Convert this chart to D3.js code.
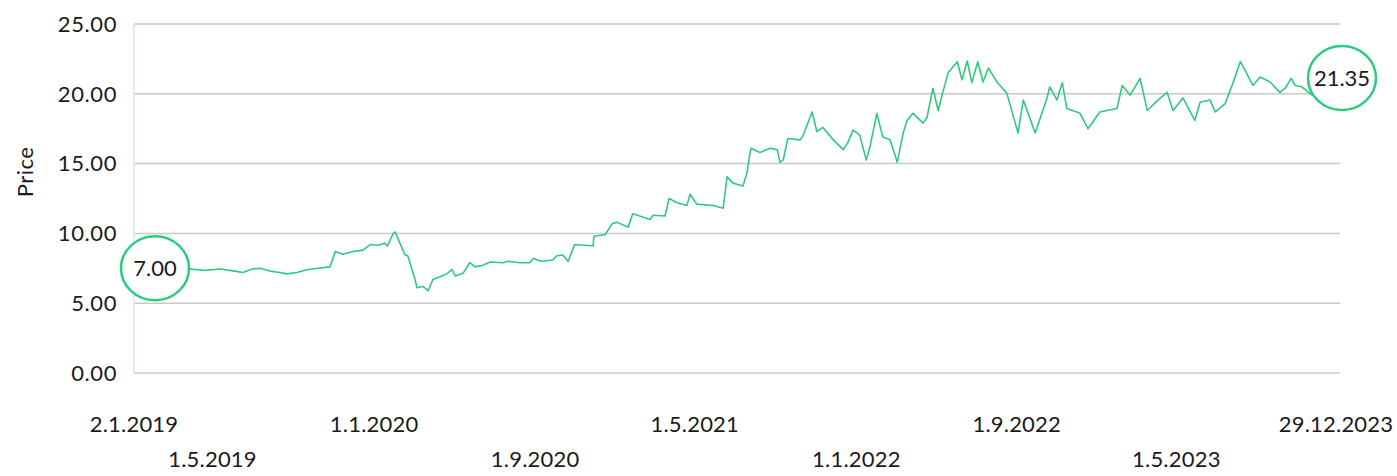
<!DOCTYPE html>
<html>
<head>
<meta charset="utf-8">
<script src="https://cdn.jsdelivr.net/npm/d3@7"></script>
<style>
  html, body { margin: 0; padding: 0; background: #fff; }
  svg text { font-family: Lato, 'Open Sans', sans-serif; fill: #1a1a1a; }
</style>
</head>
<body>
<svg id="chart" width="1397" height="476"></svg>
<script>
const dates = [
  '2019-01-02', '2019-01-19', '2019-02-10', '2019-03-05', '2019-03-28', '2019-04-20', '2019-05-12',
  '2019-06-04', '2019-06-16', '2019-06-30', '2019-07-12', '2019-07-27', '2019-08-11', '2019-08-22',
  '2019-09-06', '2019-09-21', '2019-10-08', '2019-10-26', '2019-11-03', '2019-11-15', '2019-11-30',
  '2019-12-15', '2019-12-26', '2020-01-07', '2020-01-17', '2020-01-21', '2020-01-30', '2020-02-02',
  '2020-02-09', '2020-02-17', '2020-02-21', '2020-03-03', '2020-03-06', '2020-03-15', '2020-03-23',
  '2020-03-30', '2020-04-10', '2020-04-20', '2020-04-28', '2020-05-03', '2020-05-15', '2020-05-25',
  '2020-06-02', '2020-06-13', '2020-06-25', '2020-07-14', '2020-07-22', '2020-08-09', '2020-08-24',
  '2020-08-29', '2020-09-11', '2020-09-28', '2020-10-04', '2020-10-13', '2020-10-21', '2020-10-31',
  '2020-11-16', '2020-11-28', '2020-11-29', '2020-12-16', '2020-12-27', '2021-01-03', '2021-01-20',
  '2021-01-27', '2021-02-10', '2021-02-22', '2021-02-27', '2021-03-17', '2021-03-23', '2021-04-04',
  '2021-04-19', '2021-04-24', '2021-05-04', '2021-05-29', '2021-06-13', '2021-06-19', '2021-06-28',
  '2021-07-13', '2021-07-19', '2021-07-25', '2021-08-08', '2021-08-23', '2021-09-03', '2021-09-07',
  '2021-09-12', '2021-09-19', '2021-10-08', '2021-10-12', '2021-10-26', '2021-11-02', '2021-11-11',
  '2021-11-27', '2021-12-12', '2021-12-19', '2021-12-27', '2022-01-06', '2022-01-16', '2022-01-22',
  '2022-02-01', '2022-02-10', '2022-02-21', '2022-03-04', '2022-03-13', '2022-03-19', '2022-03-28',
  '2022-04-12', '2022-04-18', '2022-04-27', '2022-05-05', '2022-05-12', '2022-05-20', '2022-06-03',
  '2022-06-10', '2022-06-18', '2022-06-25', '2022-07-04', '2022-07-12', '2022-07-20', '2022-08-02',
  '2022-08-17', '2022-09-03', '2022-09-11', '2022-09-29', '2022-10-17', '2022-10-21', '2022-11-01',
  '2022-11-09', '2022-11-16', '2022-12-06', '2022-12-18', '2023-01-05', '2023-01-31', '2023-02-08',
  '2023-02-20', '2023-03-07', '2023-03-18', '2023-04-03', '2023-04-17', '2023-04-26', '2023-05-11',
  '2023-05-29', '2023-06-06', '2023-06-21', '2023-06-29', '2023-07-14', '2023-07-26', '2023-08-06',
  '2023-08-13', '2023-08-25', '2023-09-05', '2023-09-20', '2023-10-05', '2023-10-13', '2023-10-22',
  '2023-10-28', '2023-11-07', '2023-11-23', '2023-12-29'
]
const prices = [
  7.00, 7.30, 7.45, 7.40, 7.45, 7.35, 7.45,
  7.30, 7.20, 7.45, 7.50, 7.30, 7.20, 7.10,
  7.20, 7.40, 7.50, 7.60, 8.70, 8.50, 8.70,
  8.80, 9.20, 9.15, 9.30, 9.10, 10.00, 10.10,
  9.30, 8.45, 8.40, 6.70, 6.10, 6.20, 5.90,
  6.70, 6.90, 7.10, 7.40, 6.95, 7.15, 7.90,
  7.60, 7.70, 7.95, 7.90, 8.00, 7.90, 7.90,
  8.20, 8.00, 8.10, 8.40, 8.45, 8.00, 9.20,
  9.15, 9.10, 9.80, 9.90, 10.70, 10.80, 10.45,
  11.40, 11.20, 11.00, 11.30, 11.25, 12.50, 12.20,
  12.00, 12.80, 12.10, 12.00, 11.80, 14.05, 13.60,
  13.40, 14.30, 16.10, 15.80, 16.10, 16.00, 15.10,
  15.25, 16.80, 16.70, 17.00, 18.70, 17.30, 17.60,
  16.70, 16.00, 16.50, 17.40, 17.05, 15.25, 16.30,
  18.60, 16.90, 16.70, 15.10, 17.20, 18.10, 18.60,
  17.90, 18.30, 20.40, 18.80, 20.10, 21.50, 22.30,
  21.00, 22.35, 20.80, 22.30, 20.85, 21.85, 20.85,
  20.05, 17.20, 19.55, 17.20, 19.70, 20.50, 19.55,
  20.80, 18.95, 18.60, 17.50, 18.70, 18.95, 20.60,
  19.90, 21.10, 18.80, 19.55, 20.10, 18.80, 19.70,
  18.10, 19.40, 19.55, 18.70, 19.30, 20.80, 22.30,
  21.70, 20.60, 21.20, 20.85, 20.10, 20.40, 21.10,
  20.60, 20.50, 19.90, 21.35
]
const yTicks = [0, 5, 10, 15, 20, 25]
const xTickDates = [
  '2019-01-02', '2019-05-01', '2020-01-01', '2020-09-01', '2021-05-01',
  '2022-01-01', '2022-09-01', '2023-05-01', '2023-12-29'
]
const startLabel = '7.00'
const endLabel = '21.35'

const green = '#2ecb7f'
const parse = d3.timeParse('%Y-%m-%d')
const fmt = d3.timeFormat('%-d.%-m.%Y')

const plotLeft = 134
const plotRight = 1340
const plotTop = 24
const plotBottom = 373

const svg = d3.select('#chart')

const x = d3
  .scaleTime()
  .domain([parse(dates[0]), parse(dates[dates.length - 1])])
  .range([plotLeft, 1336])
const y = d3.scaleLinear().domain([0, 25]).range([plotBottom, plotTop])

// gridlines
svg
  .append('g')
  .selectAll('line')
  .data(yTicks)
  .join('line')
  .attr('x1', plotLeft)
  .attr('x2', plotRight)
  .attr('y1', d => y(d))
  .attr('y2', d => y(d))
  .attr('stroke', '#c9c9c9')
  .attr('stroke-width', 1.5)

// y axis line
svg
  .append('line')
  .attr('x1', plotLeft)
  .attr('x2', plotLeft)
  .attr('y1', plotTop)
  .attr('y2', plotBottom)
  .attr('stroke', '#d9e1f2')
  .attr('stroke-width', 1.5)

// y tick labels
svg
  .append('g')
  .selectAll('text')
  .data(yTicks)
  .join('text')
  .attr('x', 117)
  .attr('y', d => y(d))
  .attr('dy', '0.35em')
  .attr('text-anchor', 'end')
  .style('font-size', '22px')
  .style('letter-spacing', '0.6px')
  .text(d => d.toFixed(2))

svg
  .append('text')
  .attr('transform', 'translate(33,172) rotate(-90)')
  .attr('text-anchor', 'middle')
  .style('font-size', '22px')
  .style('letter-spacing', '0.5px')
  .text('Price')

// x tick labels, staggered in two rows
svg
  .append('g')
  .selectAll('text')
  .data(xTickDates)
  .join('text')
  .attr('x', d => x(parse(d)))
  .attr('y', (d, i) => (i % 2 === 0 ? 432 : 467))
  .attr('text-anchor', 'middle')
  .style('font-size', '22px')
  .style('letter-spacing', '0.2px')
  .text(d => fmt(parse(d)))

// price line
const line = d3
  .line()
  .x((d, i) => x(parse(dates[i])))
  .y(d => y(d))

svg
  .append('path')
  .datum(prices)
  .attr('d', line)
  .attr('fill', 'none')
  .attr('stroke', green)
  .attr('stroke-width', 1.6)
  .attr('stroke-linejoin', 'round')

// start / end bubbles
const bubbles = [
  { date: dates[0], value: prices[0], text: startLabel, dx: 21, dy: -7 },
  { date: dates[dates.length - 1], value: prices[prices.length - 1], text: endLabel, dx: 6, dy: 3 },
]
const bubble = svg
  .append('g')
  .selectAll('g')
  .data(bubbles)
  .join('g')
  .attr('transform', d => `translate(${x(parse(d.date)) + d.dx},${y(d.value) + d.dy})`)
bubble
  .append('ellipse')
  .attr('rx', 34)
  .attr('ry', 32)
  .attr('fill', '#fff')
  .attr('stroke', green)
  .attr('stroke-width', 2.5)
bubble
  .append('text')
  .attr('text-anchor', 'middle')
  .attr('dy', '0.35em')
  .style('font-size', '22px')
  .text(d => d.text)
</script>
</body>
</html>
